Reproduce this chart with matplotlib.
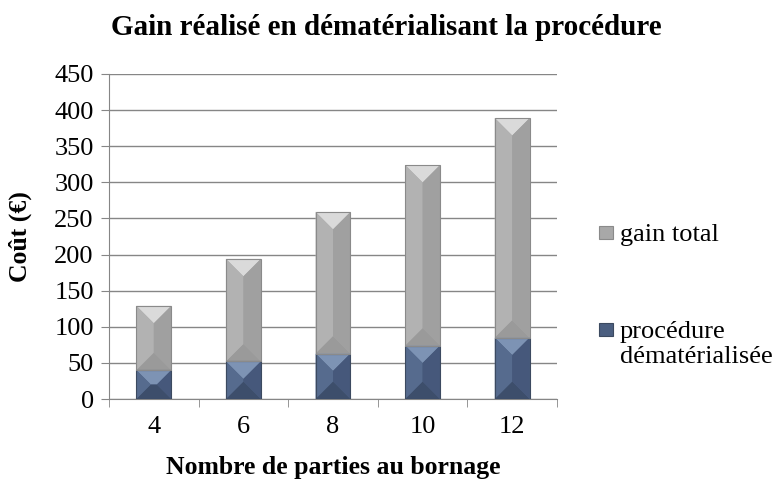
import matplotlib
matplotlib.use("Agg")
import matplotlib.pyplot as plt
from matplotlib.patches import Polygon, Rectangle

plt.rcParams['font.family'] = ['Liberation Serif', 'DejaVu Serif']

parties = ["4", "6", "8", "10", "12"]
procedure = [40, 52, 63, 74, 85]
gain = [89, 142, 196, 250, 304]
legend_labels = ["gain total", "procédure\ndématérialisée"]

fig = plt.figure(figsize=(7.73, 4.83), dpi=100)
ax = fig.add_axes([109 / 773, 84 / 483, 448 / 773, 325 / 483])

x = list(range(len(parties)))
width = 0.39
ax.set_xlim(-0.5, len(parties) - 0.5)
ax.set_ylim(0, 450)

# pixel -> data unit helpers for the bevel
px_x = (len(parties)) / 448.0
px_y = 450 / 325.0


def bevel_bar(xc, y0, h, cols, edge):
    x0, x1 = xc - width / 2, xc + width / 2
    y1 = y0 + h
    half_w_px = (width / px_x) / 2
    d_px = min(half_w_px, 18, (h / px_y) / 2)
    dx, dy = d_px * px_x, d_px * px_y
    face, top, bottom, left, right = cols
    ax.add_patch(Rectangle((x0, y0), width, h, facecolor=face, edgecolor='none', zorder=3))
    ax.add_patch(Polygon([(x0, y1), (x1, y1), (x1 - dx, y1 - dy), (x0 + dx, y1 - dy)],
                         facecolor=top, edgecolor='none', zorder=4))
    ax.add_patch(Polygon([(x0, y0), (x1, y0), (x1 - dx, y0 + dy), (x0 + dx, y0 + dy)],
                         facecolor=bottom, edgecolor='none', zorder=4))
    ax.add_patch(Polygon([(x0, y0), (x0, y1), (x0 + dx, y1 - dy), (x0 + dx, y0 + dy)],
                         facecolor=left, edgecolor='none', zorder=4))
    ax.add_patch(Polygon([(x1, y0), (x1, y1), (x1 - dx, y1 - dy), (x1 - dx, y0 + dy)],
                         facecolor=right, edgecolor='none', zorder=4))
    ax.add_patch(Rectangle((x0, y0), width, h, facecolor='none', edgecolor=edge,
                           linewidth=0.8, zorder=5))


blue_cols = ("#4b5f80", "#7d93b4", "#3d4e6b", "#566b8e", "#46587b")
gray_cols = ("#a8a8a8", "#dadada", "#9a9a9a", "#b2b2b2", "#a0a0a0")

for i in x:
    bevel_bar(i, 0, procedure[i], blue_cols, "#3c4a60")
    bevel_bar(i, procedure[i], gain[i], gray_cols, "#8a8a8a")

ax.set_yticks(range(0, 451, 50))
ax.set_xticks(x)
ax.set_xticklabels(parties)
ax.set_xticks([i - 0.5 for i in range(len(parties) + 1)], minor=True)
ax.tick_params(axis='x', which='major', length=0, labelsize=19, pad=12)
ax.tick_params(axis='x', which='minor', length=6, color='#868686', direction='out')
ax.tick_params(axis='y', length=6, color='#868686', labelsize=19, pad=5)
ax.yaxis.grid(True, color='#868686', linewidth=1)
ax.set_axisbelow(True)
for s in ['top', 'right']:
    ax.spines[s].set_visible(False)
for s in ['left', 'bottom']:
    ax.spines[s].set_color('#868686')

ax.set_xlabel("Nombre de parties au bornage", fontsize=18.5, fontweight='bold', labelpad=13)
ax.set_ylabel("Coût (€)", fontsize=18.5, fontweight='bold', labelpad=16)
fig.suptitle("Gain réalisé en dématérialisant la procédure", fontsize=21,
             fontweight='bold', x=0.5, y=1 - 14 / 483, va='top')

# legend drawn by hand: marker sits next to the first line of each label
W, H = 773.0, 483.0
leg_items = [(gray_cols[0], '#8a8a8a', 232), (blue_cols[0], '#3c4a60', 329)]
for (fc, ec, yc), lab in zip(leg_items, legend_labels):
    fig.patches.append(Rectangle((599 / W, 1 - (yc + 6.5) / H), 14 / W, 13 / H,
                                 facecolor=fc, edgecolor=ec, linewidth=0.8,
                                 transform=fig.transFigure, figure=fig))
    fig.text(620 / W, 1 - (yc - 8) / H, lab, fontsize=19, va='top', ha='left',
             linespacing=1.2)

fig.savefig("out.png", dpi=100)
